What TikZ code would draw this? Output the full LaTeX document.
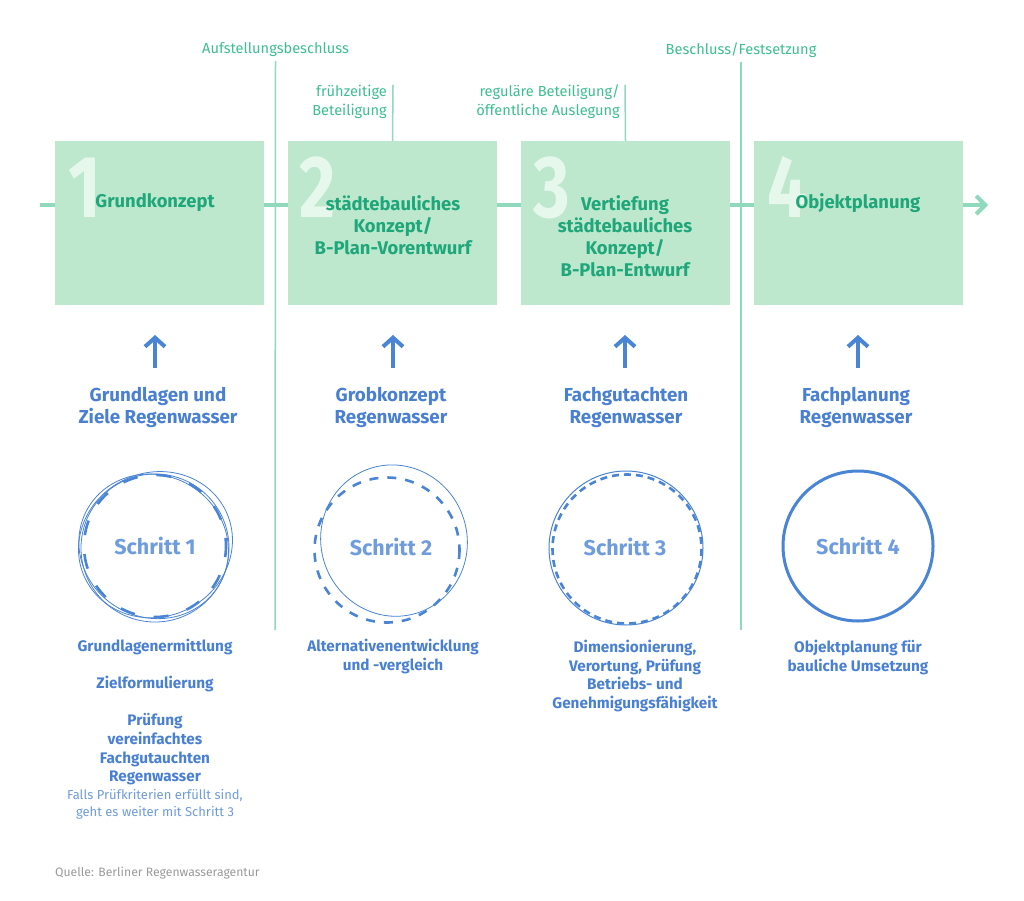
\documentclass[tikz,border=0pt]{standalone}
\usepackage{fontspec}
\setmainfont{Fira Sans}
\usepackage{tikz}
\usetikzlibrary{arrows.meta,positioning}

\definecolor{BoxGreen}{HTML}{BDE8CD}
\definecolor{DigitWhite}{HTML}{E6F7EC}
\definecolor{LineGreen}{HTML}{8FD9BC}
\definecolor{HeadGreen}{HTML}{1FA67A}
\definecolor{NoteGreen}{HTML}{3DBF8F}
\definecolor{TitleBlue}{HTML}{4A80D2}
\definecolor{StepBlue}{HTML}{6F9CDD}
\definecolor{RingBlue}{HTML}{4A84D4}
\definecolor{SourceGray}{HTML}{9A9A9A}

\begin{document}
\begin{tikzpicture}[x=1pt,y=-1pt]
			\tikzstyle{Phase}	= [rectangle, fill=BoxGreen, minimum width=209pt, minimum height=164pt, inner sep=0pt]
			\tikzstyle{Digit}	= [anchor=base west, inner sep=0pt, text=DigitWhite, font=\bfseries\fontsize{88}{88}\selectfont]
			\tikzstyle{Heading}	= [align=center, inner sep=0pt, text=HeadGreen, font=\bfseries\fontsize{18.4}{22}\selectfont]
			\tikzstyle{Note}	= [inner sep=0pt, text=NoteGreen, font=\fontsize{14.6}{19}\selectfont]
			\tikzstyle{Marker}	= [LineGreen, line width=1.5pt]
			\tikzstyle{MainLine}	= [LineGreen, line width=4pt]
			\tikzstyle{UpArrow}	= [RingBlue, line width=4pt, -{Straight Barb[length=9pt, width=20pt, line width=4pt]}]
			\tikzstyle{Title}	= [align=center, inner sep=0pt, text=TitleBlue, font=\bfseries\fontsize{18.8}{22}\selectfont]
			\tikzstyle{Step}	= [circle, minimum size=146pt, inner sep=0pt, text=StepBlue, font=\bfseries\fontsize{21.5}{24}\selectfont]
			\tikzstyle{Sketch}	= [RingBlue, line width=0.8pt]
			\tikzstyle{Dashes}	= [RingBlue, line width=2.6pt]
			\tikzstyle{Task}	= [align=center, inner sep=0pt, text=TitleBlue, font=\bfseries\fontsize{15.3}{18.6}\selectfont]
			\tikzstyle{Hint}	= [align=center, inner sep=0pt, text=StepBlue, font=\fontsize{13}{17}\selectfont]

			\fill [white] (0,0) rectangle (1024,901);
			\useasboundingbox (0,0) rectangle (1024,901);

			% time line
			\coordinate (lstart) at (40,205);
			\coordinate (lend) at (988,205);
			\draw [MainLine, -{Straight Barb[length=9pt, width=18pt, line width=4pt]}] (lstart) to (lend);

			\node (p1) at (159,223) [Phase] {};
			\node (p2) at (392.5,223) [Phase] {};
			\node (p3) at (625.5,223) [Phase] {};
			\node (p4) at (858.5,223) [Phase] {};

			\node (d1) at (68,218) [Digit] {\scalebox{.8}[1]{1}};
			\node (d2) at (299,218) [Digit] {\scalebox{.8}[1]{2}};
			\node (d3) at (533,218) [Digit] {\scalebox{.8}[1]{3}};
			\node (d4) at (767,218) [Digit] {\scalebox{.8}[1]{4}};

			\node (h1) at (155,203) [Heading] {Grundkonzept};
			\node (h2) at (393,225) [Heading] {städtebauliches\\Konzept/\\B-Plan-Vorentwurf};
			\node (h3) at (625,236) [Heading] {Vertiefung\\städtebauliches\\Konzept/\\B-Plan-Entwurf};
			\node (h4) at (858,203) [Heading] {Objektplanung};

			% milestones
			\node (m1) at (275.5,50) [Note] {Aufstellungsbeschluss};
			\node (m2) at (741,50) [Note] {Beschluss/Festsetzung};
			\coordinate (m1b) at (275,630);
			\coordinate (m2b) at (741,630);
			\draw [Marker] (m1.south) ++(0,4) to (m1b);
			\draw [Marker] (m2.south) ++(0,4) to (m2b);

			\node (b1) at (387,101.5) [Note, anchor=east, align=right] {frühzeitige\\Beteiligung};
			\node (b2) at (620,101.5) [Note, anchor=east, align=right] {reguläre Beteiligung/\\öffentliche Auslegung};
			\coordinate (b1t) at (393,85);
			\coordinate (b2t) at (625,85);
			\draw [Marker] (b1t) to (p2.north);
			\draw [Marker] (b2t) to (p3.north);

			% arrows and titles
			\coordinate (u1s) at (155,368);
			\coordinate (u1e) at (155,335);
			\coordinate (u2s) at (393,368);
			\coordinate (u2e) at (393,335);
			\coordinate (u3s) at (625,368);
			\coordinate (u3e) at (625,335);
			\coordinate (u4s) at (858,368);
			\coordinate (u4e) at (858,335);
			\draw [UpArrow] (u1s) to (u1e);
			\draw [UpArrow] (u2s) to (u2e);
			\draw [UpArrow] (u3s) to (u3e);
			\draw [UpArrow] (u4s) to (u4e);

			\node (t1) at (158,407) [Title] {Grundlagen und\\Ziele Regenwasser};
			\node (t2) at (391,407) [Title] {Grobkonzept\\Regenwasser};
			\node (t3) at (626,407) [Title] {Fachgutachten\\Regenwasser};
			\node (t4) at (856,407) [Title] {Fachplanung\\Regenwasser};

			% steps
			\node (s1) at (155,546) [Step] {Schritt 1};
			\node (s2) at (391,547) [Step] {Schritt 2};
			\node (s3) at (625,547) [Step] {Schritt 3};
			\node (s4) at (858,546) [Step] {Schritt 4};

			\draw [Sketch, rotate around={25:(s1.center)}] (s1.center) ++(1,-1) ellipse [x radius=78, y radius=72];
			\draw [Sketch, rotate around={-30:(s1.center)}] (s1.center) ++(-1,1) ellipse [x radius=76, y radius=71];
			\draw [Sketch] (s1.center) ++(0,2) circle [radius=74];
			\draw [Dashes, dash pattern=on 15pt off 19pt, dash phase=4pt] (s1.center) circle [radius=71];

			\draw [Sketch, rotate around={20:(s2.center)}] (s2.center) ++(5,-5) ellipse [x radius=73, y radius=76];
			\draw [Dashes, dash pattern=on 9pt off 9pt] (s2.center) ++(-4,3) circle [radius=72.5];

			\draw [Sketch, line width=1pt] (s3.center) ++(1,1) circle [radius=77];
			\draw [Dashes, dash pattern=on 7pt off 5pt] (s3.center) ++(2,2) circle [radius=74.5];

			\draw [RingBlue, line width=3pt] (s4.center) circle [radius=75];

			% tasks
			\node (k1) at (155,712) [Task] {Grundlagenermittlung\\[18.6pt]Zielformulierung\\[18.6pt]Prüfung\\vereinfachtes\\Fachgutauchten\\Regenwasser};
			\node (n1) at (155,804.5) [Hint] {Falls Prüfkriterien erfüllt sind,\\geht es weiter mit Schritt 3};
			\node (k2) at (393,656.5) [Task] {Alternativenentwicklung\\und -vergleich};
			\node (k3) at (635,676) [Task] {Dimensionierung,\\Verortung, Prüfung\\Betriebs- und\\Genehmigungsfähigkeit};
			\node (k4) at (858,657.5) [Task] {Objektplanung für\\bauliche Umsetzung};

			\node (q) at (55,873) [anchor=west, inner sep=0pt, text=SourceGray, font=\fontsize{12.2}{14}\selectfont] {Quelle: Berliner Regenwasseragentur};
		\end{tikzpicture}
\end{document}
